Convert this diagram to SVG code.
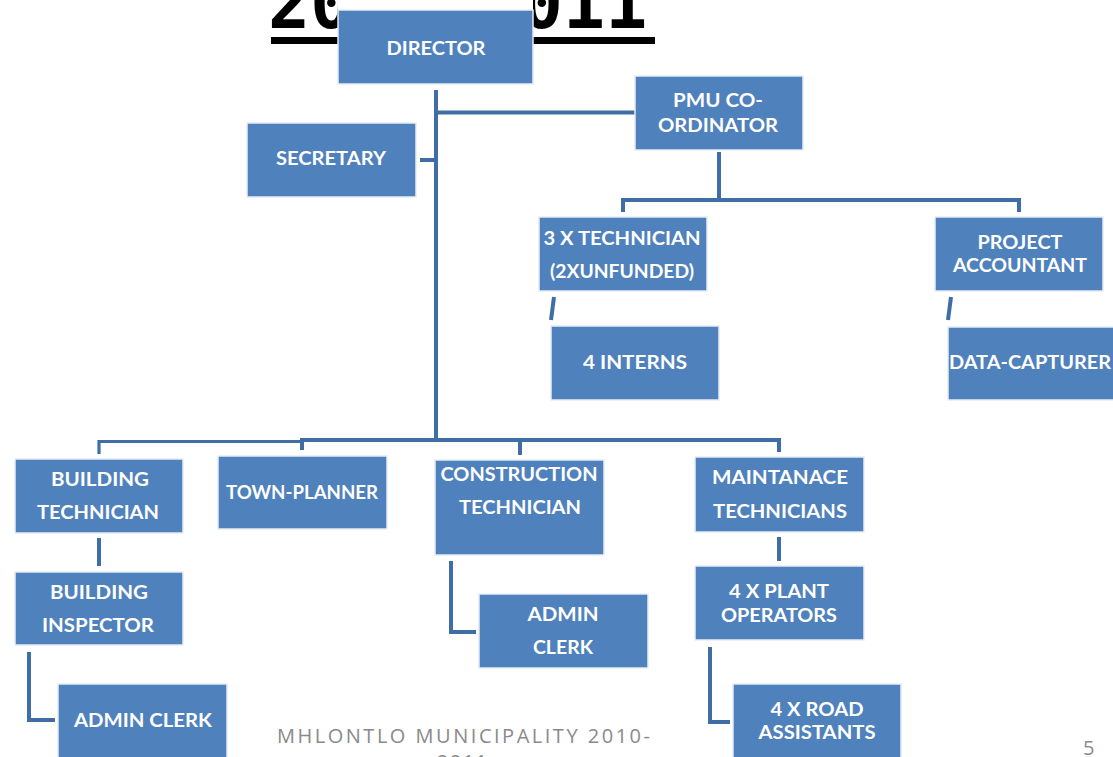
<svg xmlns="http://www.w3.org/2000/svg" width="1113" height="757" viewBox="0 0 1113 757">
  <style>
    .box { fill: #4F81BD; stroke: #E6ECF5; stroke-width: 1.5; }
    .lbl { fill: #FFFFFF; font-family: Lato, "Open Sans", "Liberation Sans", sans-serif; font-weight: bold; font-size: 19.5px; text-anchor: middle; }
    .wire { fill: none; stroke: #3F6DA6; stroke-width: 4; stroke-linejoin: miter; stroke-linecap: butt; }
    .wire-thin { fill: none; stroke: #3F6DA6; stroke-width: 3.2; }
    .title { font-family: "DejaVu Sans Mono", "Liberation Mono", monospace; font-weight: bold; font-size: 70px; fill: #000000; }
    .foot { font-family: "Open Sans", "Liberation Sans", sans-serif; font-size: 20px; fill: #8A8A8A; }
  </style>

  <rect width="1113" height="757" fill="#FFFFFF"/>

  <!-- slide title, partly covered by the director box -->
  <g id="title">
    <text class="title" x="268" y="28">2010-2011</text>
    <rect x="271" y="37" width="384" height="7" fill="#000000"/>
  </g>

  <!-- connectors -->
  <g id="connectors">
    <path class="wire" d="M436 90 V438" stroke-width="5"/>
    <path class="wire" d="M436 112.5 H635"/>
    <path class="wire" d="M420 160 H436"/>
    <path class="wire" d="M719 152 V200"/>
    <path class="wire" d="M623 212 V200 H1019 V212"/>
    <path class="wire" d="M554 297 L551 320"/>
    <path class="wire" d="M951 297 L948 320"/>
    <path class="wire" d="M300 440 H779 V452" stroke-width="5"/>
    <path class="wire-thin" d="M99 454 V441.5 H302"/>
    <path class="wire" d="M302 440 V450"/>
    <path class="wire" d="M520 440 V455"/>
    <path class="wire" d="M99 538 V566"/>
    <path class="wire" d="M29 652 V720 H55"/>
    <path class="wire" d="M451 561 V632 H476"/>
    <path class="wire" d="M779 537 V561"/>
    <path class="wire" d="M710 647 V722 H730"/>
  </g>

  <g id="director">
    <!-- white backing that hides the title above the box -->
    <rect x="338" y="0" width="195" height="12" fill="#FFFFFF"/>
    <rect class="box" x="338" y="10" width="195" height="74"/>
    <text class="lbl" x="436" y="55" textLength="99" lengthAdjust="spacingAndGlyphs">DIRECTOR</text>
  </g>

  <g id="pmu-coordinator">
    <rect class="box" x="635" y="76" width="168" height="74"/>
    <text class="lbl" x="718" y="107" textLength="90" lengthAdjust="spacingAndGlyphs">PMU CO-</text>
    <text class="lbl" x="718" y="132" textLength="120" lengthAdjust="spacingAndGlyphs">ORDINATOR</text>
  </g>

  <g id="secretary">
    <rect class="box" x="247" y="123" width="169" height="74"/>
    <text class="lbl" x="331" y="165" textLength="110" lengthAdjust="spacingAndGlyphs">SECRETARY</text>
  </g>

  <g id="technicians">
    <rect class="box" x="539" y="217" width="168" height="74"/>
    <text class="lbl" x="622" y="245" textLength="157" lengthAdjust="spacingAndGlyphs">3 X TECHNICIAN</text>
    <text class="lbl" x="622" y="278" font-size="17" textLength="144" lengthAdjust="spacingAndGlyphs">(2XUNFUNDED)</text>
  </g>

  <g id="project-accountant">
    <rect class="box" x="935" y="217" width="168" height="74"/>
    <text class="lbl" x="1020" y="249" textLength="85" lengthAdjust="spacingAndGlyphs">PROJECT</text>
    <text class="lbl" x="1020" y="272" textLength="134" lengthAdjust="spacingAndGlyphs">ACCOUNTANT</text>
  </g>

  <g id="interns">
    <rect class="box" x="551" y="326" width="168" height="74"/>
    <text class="lbl" x="635" y="369" textLength="104" lengthAdjust="spacingAndGlyphs">4 INTERNS</text>
  </g>

  <g id="data-capturer">
    <rect class="box" x="948" y="327" width="170" height="73"/>
    <text class="lbl" x="1030" y="369" textLength="162" lengthAdjust="spacingAndGlyphs">DATA-CAPTURER</text>
  </g>

  <g id="building-technician">
    <rect class="box" x="15" y="459" width="168" height="74"/>
    <text class="lbl" x="100" y="486" textLength="98" lengthAdjust="spacingAndGlyphs">BUILDING</text>
    <text class="lbl" x="98" y="519" textLength="122" lengthAdjust="spacingAndGlyphs">TECHNICIAN</text>
  </g>

  <g id="town-planner">
    <rect class="box" x="218" y="456" width="169" height="73"/>
    <text class="lbl" x="302" y="499" textLength="152" lengthAdjust="spacingAndGlyphs">TOWN-PLANNER</text>
  </g>

  <g id="construction-technician">
    <rect class="box" x="435" y="460" width="169" height="95"/>
    <text class="lbl" x="519" y="481" textLength="157" lengthAdjust="spacingAndGlyphs">CONSTRUCTION</text>
    <text class="lbl" x="520" y="514" textLength="122" lengthAdjust="spacingAndGlyphs">TECHNICIAN</text>
  </g>

  <g id="maintenance-technicians">
    <rect class="box" x="695" y="457" width="169" height="75"/>
    <text class="lbl" x="780" y="484" textLength="136" lengthAdjust="spacingAndGlyphs">MAINTANACE</text>
    <text class="lbl" x="780" y="518" textLength="134" lengthAdjust="spacingAndGlyphs">TECHNICIANS</text>
  </g>

  <g id="building-inspector">
    <rect class="box" x="15" y="572" width="168" height="73"/>
    <text class="lbl" x="99" y="599" textLength="98" lengthAdjust="spacingAndGlyphs">BUILDING</text>
    <text class="lbl" x="98" y="632" textLength="112" lengthAdjust="spacingAndGlyphs">INSPECTOR</text>
  </g>

  <g id="construction-admin-clerk">
    <rect class="box" x="479" y="594" width="169" height="74"/>
    <text class="lbl" x="563" y="621" textLength="71" lengthAdjust="spacingAndGlyphs">ADMIN</text>
    <text class="lbl" x="563" y="654" textLength="60" lengthAdjust="spacingAndGlyphs">CLERK</text>
  </g>

  <g id="plant-operators">
    <rect class="box" x="695" y="566" width="169" height="74"/>
    <text class="lbl" x="779" y="598" textLength="100" lengthAdjust="spacingAndGlyphs">4 X PLANT</text>
    <text class="lbl" x="779" y="622" textLength="116" lengthAdjust="spacingAndGlyphs">OPERATORS</text>
  </g>

  <g id="building-admin-clerk">
    <rect class="box" x="58" y="684" width="169" height="80"/>
    <text class="lbl" x="143" y="727" textLength="138" lengthAdjust="spacingAndGlyphs">ADMIN CLERK</text>
  </g>

  <g id="road-assistants">
    <rect class="box" x="733" y="684" width="168" height="80"/>
    <text class="lbl" x="817" y="716" textLength="93" lengthAdjust="spacingAndGlyphs">4 X ROAD</text>
    <text class="lbl" x="817" y="739" textLength="117" lengthAdjust="spacingAndGlyphs">ASSISTANTS</text>
  </g>

  <!-- slide footer -->
  <g id="footer">
    <text class="foot" x="277" y="743" textLength="373" lengthAdjust="spacing">MHLONTLO MUNICIPALITY 2010-</text>
    <text class="foot" x="437" y="769" textLength="50" lengthAdjust="spacing">2011</text>
    <text class="foot" x="1083" y="755">5</text>
  </g>
</svg>
